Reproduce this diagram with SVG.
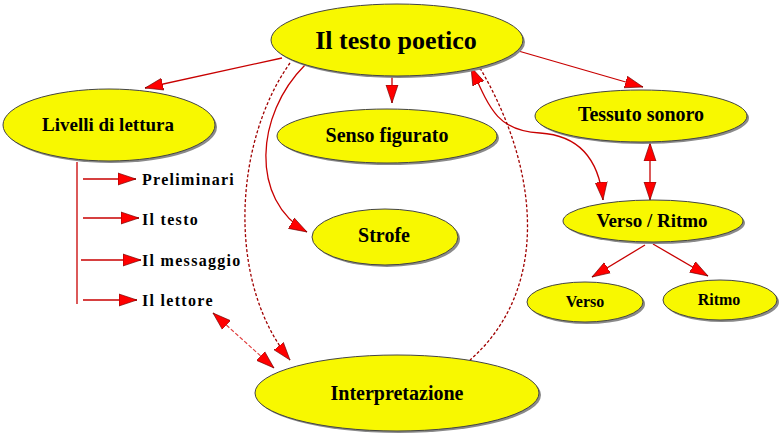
<svg xmlns="http://www.w3.org/2000/svg" width="780" height="436" viewBox="0 0 780 436">
<style>
.sh{fill:#8a8a8a}
.el{fill:#f8f800;stroke:#444;stroke-width:1}
.t{font-weight:bold;fill:#000;text-anchor:middle}
.lt{font-weight:bold;fill:#000;font-size:16px;letter-spacing:1.3px}
.c{fill:none;stroke:#c80000;stroke-width:1.3}
.d{fill:none;stroke:#a00000;stroke-width:1.3;stroke-dasharray:3,2}
.dl{fill:none;stroke:#e04040;stroke-width:1.2;stroke-dasharray:4,2}
</style>
<defs>
<marker id="a" markerUnits="userSpaceOnUse" markerWidth="19" markerHeight="14" refX="18" refY="7" orient="auto-start-reverse">
<path d="M0,1 L18,7 L0,13 z" fill="#ff0000" stroke="#600" stroke-width="0.6"/>
</marker>
</defs>
<rect width="780" height="436" fill="#fff"/>

<g id="connectors">
<line class="c" x1="282" y1="58" x2="145" y2="88" marker-end="url(#a)"/>
<line class="c" x1="392" y1="75" x2="392" y2="103" marker-end="url(#a)"/>
<line class="c" x1="515" y1="50" x2="643" y2="87" marker-end="url(#a)"/>
<line class="c" x1="650" y1="143" x2="650" y2="200" marker-start="url(#a)" marker-end="url(#a)"/>
<path class="c" d="M471,67 C490,110 498,131 540,133 C588,136 600,170 603,200" marker-start="url(#a)" marker-end="url(#a)"/>
<path class="d" d="M480,68 C540,170 550,290 470,360"/>
<line x1="480" y1="60" x2="480" y2="70" stroke="#800" stroke-width="1"/>
<path class="c" d="M305,65 C255,115 250,200 307,232" marker-end="url(#a)"/>
<path class="d" d="M290,63 C235,140 225,280 290,360" marker-end="url(#a)"/>
<line class="dl" x1="213" y1="313" x2="274" y2="368" marker-start="url(#a)" marker-end="url(#a)"/>
<line class="c" x1="645" y1="245" x2="592" y2="277" marker-end="url(#a)"/>
<line class="c" x1="653" y1="244" x2="708" y2="276" marker-end="url(#a)"/>
<line class="c" x1="77" y1="162" x2="77" y2="304"/>
<line class="c" x1="83" y1="179" x2="136" y2="179" marker-end="url(#a)"/>
<line class="c" x1="83" y1="218" x2="139" y2="218" marker-end="url(#a)"/>
<line class="c" x1="81" y1="260" x2="141" y2="260" marker-end="url(#a)"/>
<line class="c" x1="83" y1="300" x2="137" y2="300" marker-end="url(#a)"/>
</g>

<g id="n-testo">
<ellipse class="sh" cx="399" cy="42" rx="126" ry="36"/>
<ellipse class="el" cx="397" cy="40" rx="126" ry="36"/>
<text class="t" x="396" y="49" font-size="26" font-family="'Liberation Serif', 'DejaVu Serif', serif">Il testo poetico</text>
</g>
<g id="n-livelli">
<ellipse class="sh" cx="111" cy="127" rx="106" ry="36"/>
<ellipse class="el" cx="109" cy="125" rx="106" ry="36"/>
<text class="t" x="108" y="131" font-size="19" font-family="'Liberation Serif', 'DejaVu Serif', serif">Livelli di lettura</text>
</g>
<g id="n-senso">
<ellipse class="sh" cx="389" cy="138" rx="110" ry="27"/>
<ellipse class="el" cx="387" cy="136" rx="110" ry="27"/>
<text class="t" x="387" y="142" font-size="20" font-family="'Liberation Serif', 'DejaVu Serif', serif">Senso figurato</text>
</g>
<g id="n-tessuto">
<ellipse class="sh" cx="643" cy="118" rx="106" ry="26"/>
<ellipse class="el" cx="641" cy="116" rx="106" ry="26"/>
<text class="t" x="641" y="121" font-size="20" font-family="'Liberation Serif', 'DejaVu Serif', serif">Tessuto sonoro</text>
</g>
<g id="n-strofe">
<ellipse class="sh" cx="387" cy="239" rx="73" ry="28"/>
<ellipse class="el" cx="385" cy="237" rx="73" ry="28"/>
<text class="t" x="384" y="242" font-size="20" font-family="'Liberation Serif', 'DejaVu Serif', serif">Strofe</text>
</g>
<g id="n-versoritmo">
<ellipse class="sh" cx="655" cy="223" rx="90" ry="21"/>
<ellipse class="el" cx="653" cy="221" rx="90" ry="21"/>
<text class="t" x="652" y="227" font-size="19" font-family="'Liberation Serif', 'DejaVu Serif', serif">Verso / Ritmo</text>
</g>
<g id="n-verso">
<ellipse class="sh" cx="587" cy="304" rx="58" ry="20"/>
<ellipse class="el" cx="585" cy="302" rx="58" ry="20"/>
<text class="t" x="585" y="307" font-size="16" font-family="'Liberation Serif', 'DejaVu Serif', serif">Verso</text>
</g>
<g id="n-ritmo">
<ellipse class="sh" cx="722" cy="302" rx="57" ry="20"/>
<ellipse class="el" cx="720" cy="300" rx="57" ry="20"/>
<text class="t" x="719" y="305" font-size="16" font-family="'Liberation Serif', 'DejaVu Serif', serif">Ritmo</text>
</g>
<g id="n-interpretazione">
<ellipse class="sh" cx="399" cy="395" rx="142" ry="38"/>
<ellipse class="el" cx="397" cy="393" rx="142" ry="38"/>
<text class="t" x="397" y="400" font-size="20" font-family="'Liberation Serif', 'DejaVu Serif', serif">Interpretazione</text>
</g>
<g id="list" font-family="'Liberation Serif', 'DejaVu Serif', serif">
<text class="lt" x="142" y="185">Preliminari</text>
<text class="lt" x="142" y="225">Il testo</text>
<text class="lt" x="142" y="266">Il messaggio</text>
<text class="lt" x="142" y="306">Il lettore</text>
</g>
</svg>
